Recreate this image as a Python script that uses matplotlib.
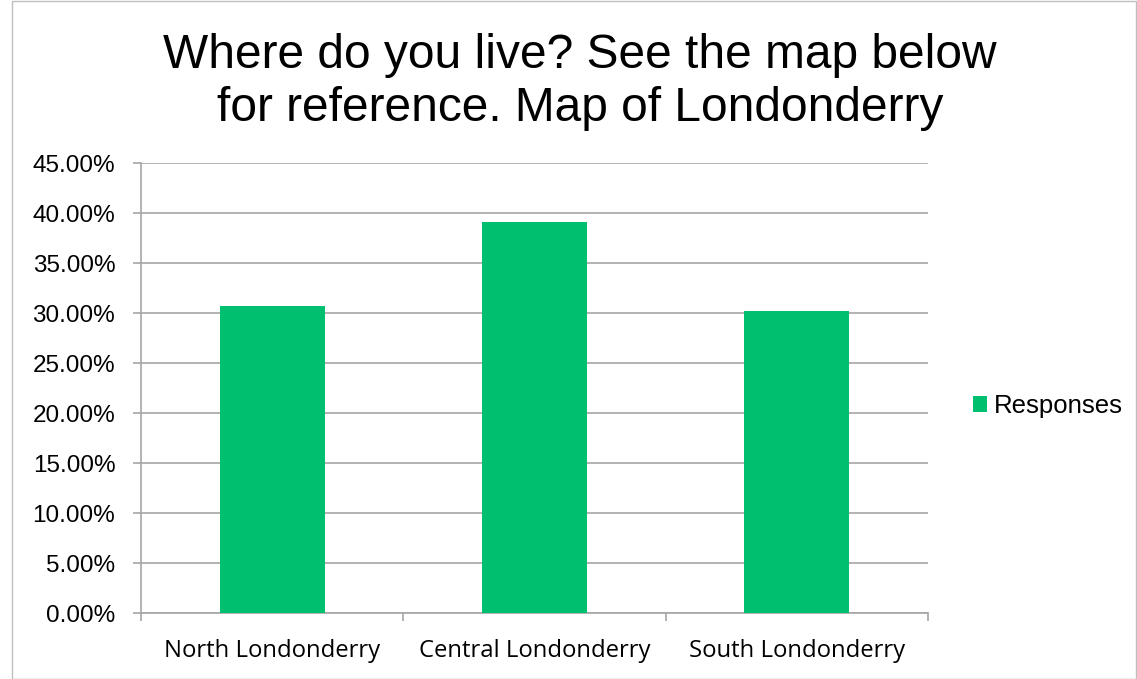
import matplotlib
matplotlib.use("Agg")
import matplotlib.pyplot as plt
from matplotlib.ticker import FuncFormatter, FixedLocator
from matplotlib.patches import Rectangle

categories = ["North Londonderry", "Central Londonderry", "South Londonderry"]
values = [30.67, 39.13, 30.20]
series_name = "Responses"
title = "Where do you live? See the map below\nfor reference. Map of Londonderry"

plt.rcParams['font.family'] = ['Liberation Sans', 'DejaVu Sans']

fig = plt.figure(figsize=(11.37, 6.79), dpi=100)
ax = fig.add_axes([141/1137, 66/679, 787/1137, 450/679])

x = list(range(len(categories)))
ax.bar(x, values, width=0.4, color="#00BF6F", label=series_name, zorder=3)

ax.set_xlim(-0.5, len(categories) - 0.5)
ax.set_ylim(0, 45)
ax.yaxis.set_major_locator(FixedLocator([i * 5 for i in range(10)]))
ax.yaxis.set_major_formatter(FuncFormatter(lambda v, p: f"{v:.2f}%"))
ax.grid(axis="y", color="#A6A6A6", linewidth=1.2, zorder=0)

ax.set_xticks(x)
ax.set_xticklabels(categories, family=['Open Sans', 'DejaVu Sans'])
ax.set_xticks([-0.5, 0.5, 1.5, 2.5], minor=True)
ax.tick_params(axis="x", which="major", length=0, pad=18.5, labelsize=17.2, labelcolor="#000000")
ax.tick_params(axis="x", which="minor", length=6, color="#A6A6A6", width=1.2)
ax.tick_params(axis="y", length=6, color="#A6A6A6", width=1.2, labelsize=17.5, pad=12.5)

for s in ["top", "right"]:
    ax.spines[s].set_visible(False)
for s in ["left", "bottom"]:
    ax.spines[s].set_color("#A6A6A6")
    ax.spines[s].set_linewidth(1.2)

fig.text(580/1137, 1 - 82/679, title, ha="center", va="center", fontsize=34.5, linespacing=1.24)

leg = fig.legend(loc="center left", bbox_to_anchor=(950/1137, 1 - 406/679), frameon=False,
                 fontsize=18.5, handlelength=0.55, handleheight=0.55, handletextpad=0.25)

fig.patches.append(Rectangle((12/1137, 0), 1 - 12/1137 - 0.001, 0.998, transform=fig.transFigure,
                             fill=False, edgecolor="#BFBFBF", linewidth=1))

fig.savefig("out.png", dpi=100)
